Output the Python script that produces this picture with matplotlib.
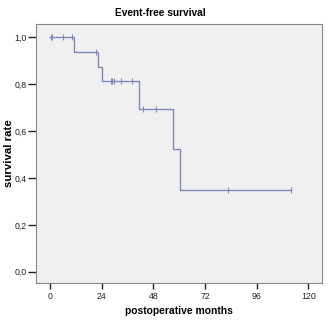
import numpy as np
import matplotlib
matplotlib.use("Agg")
import matplotlib.pyplot as plt

plt.rcParams['font.family'] = ['Liberation Sans', 'DejaVu Sans']

# step curve (months, survival)
step_t = [0, 11.3, 22.1, 24.3, 41.2, 57.3, 60.4, 111.9]
step_s = [1.0, 0.9375, 0.875, 0.8125, 0.696, 0.522, 0.348, 0.348]

# censored observations
cens_t = [0.5, 1.1, 6.2, 10.4, 21.4, 28.3, 28.9, 29.7, 33.0, 38.2, 43.3, 49.1, 82.8, 111.9]
cens_s = [1.0, 1.0, 1.0, 1.0, 0.9375, 0.8125, 0.8125, 0.8125, 0.8125, 0.8125,
          0.696, 0.696, 0.348, 0.348]

xticks = [0, 24, 48, 72, 96, 120]
yticks = [0.0, 0.2, 0.4, 0.6, 0.8, 1.0]
ylabels = ["0,0", "0,2", "0,4", "0,6", "0,8", "1,0"]

LINE = "#7f88b8"

fig = plt.figure(figsize=(3.28, 3.25), dpi=100)
ax = fig.add_axes([36/328, 1-283/325, 286/328, 259/325])
ax.set_facecolor("#f0f0f0")

ax.step(step_t, step_s, where="post", color=LINE, lw=1.0)
ax.plot(cens_t, cens_s, linestyle="none", marker="|", ms=5, mew=0.8, color=LINE)

ax.set_xlim(-6.5, 126.3)
ax.set_ylim(-0.048, 1.057)
ax.set_xticks(xticks)
ax.set_yticks(yticks)
ax.set_yticklabels(ylabels)
ax.tick_params(axis="both", labelsize=6.3, colors="#222222", width=1.0, pad=1)
ax.tick_params(axis="y", length=5.5)
ax.tick_params(axis="x", length=4.5, pad=2)
for sp in ax.spines.values():
    sp.set_color("#888888")
    sp.set_linewidth(0.8)

fig.text(160/328, 1-13/325, "Event-free survival", fontsize=7.3, fontweight="bold",
         ha="center", va="center")
ax.set_xlabel("postoperative months", fontsize=7.4, fontweight="bold")
ax.xaxis.set_label_coords(0.5, -(311-283)/259)
ax.xaxis.label.set_va("center")
ax.set_ylabel("survival rate", fontsize=8.2, fontweight="bold")
ax.yaxis.set_label_coords((9-36)/286, 0.5)
ax.yaxis.label.set_va("center")

plt.savefig("out.png", dpi=100, facecolor="white")
